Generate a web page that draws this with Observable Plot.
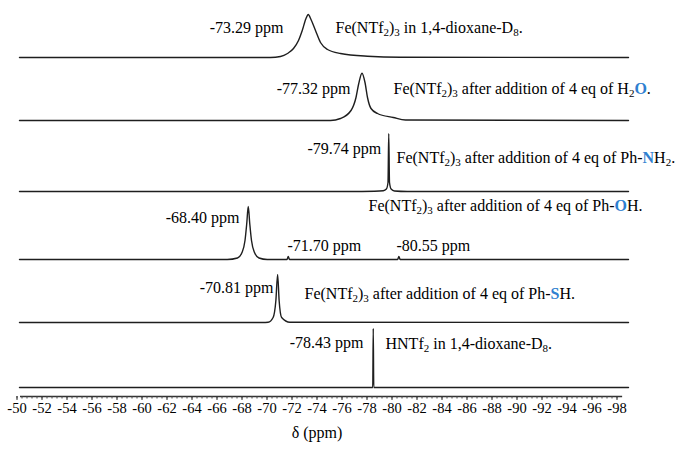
<!DOCTYPE html>
<html><head><meta charset="utf-8">
<script src="https://cdn.jsdelivr.net/npm/d3@7"></script>
<script src="https://cdn.jsdelivr.net/npm/@observablehq/plot@0.6"></script>
<style>
html,body{margin:0;padding:0;background:#fff;}
</style>
</head><body><div id="chart"></div>
<script>
// ---- data (ppm, intensity above each trace's baseline, arbitrary units) ----
const baselines = [33.9, 27.6, 20.5, 13.7, 7.4, 0.9];

const specFe = [[-50.2,0],[-70.28,0],[-71.08,0.1],[-71.64,0.4],[-72.12,0.9],[-72.52,1.7],[-72.82,2.7],[-73.12,3.9],[-73.3,4.3],[-73.52,3.8],[-73.88,2.7],[-74.28,1.5],[-74.84,0.8],[-75.88,0.4],[-78.04,0.13],[-80.68,0.03],[-98.92,0]];
const specH2O = [[-50.2,0],[-75.08,0],[-75.88,0.2],[-76.72,1.0],[-77.12,2.3],[-77.34,3.7],[-77.6,4.73],[-77.84,3.8],[-78.04,2.3],[-78.32,1.2],[-78.84,0.7],[-80.1,0.3],[-81.08,0.05],[-98.92,0]];
const specNH2 = [[-50.2,0],[-76.6,0],[-78.6,0.03],[-79.3,0.08],[-79.55,0.25],[-79.68,0.9],[-79.74,5.8],[-79.8,0.9],[-79.93,0.25],[-80.2,0.05],[-81.22,0],[-98.92,0]];
const specOH = [[-50.2,0],[-66.82,0],[-67.64,0.15],[-68.0,0.7],[-68.24,1.9],[-68.38,3.6],[-68.5,5.3],[-68.62,3.6],[-68.76,1.9],[-69.0,0.7],[-69.36,0.15],[-70.02,0],[-71.6,0],[-71.7,0.3],[-71.8,0],[-80.45,0],[-80.55,0.3],[-80.65,0],[-98.92,0]];
const specSH = [[-50.2,0],[-69.64,0],[-70.09,0.03],[-70.49,0.5],[-70.71,2.2],[-70.85,4.8],[-70.97,2.2],[-71.17,0.5],[-71.83,0.03],[-98.92,0]];
const specHNTf2 = [[-50.2,0],[-78.46,0],[-78.5,5.9],[-78.54,0],[-98.92,0]];

const spectra = [specFe, specH2O, specNH2, specOH, specSH, specHNTf2];

const majorTicks = [-50,-52,-54,-56,-58,-60,-62,-64,-66,-68,-70,-72,-74,-76,-78,-80,-82,-84,-86,-88,-90,-92,-94,-96,-98];

// annotations: text, anchor ppm, level, alignment
const peakLabelText = ["-73.29 ppm","-77.32 ppm","-79.74 ppm","-68.40 ppm","-71.70 ppm","-80.55 ppm","-70.81 ppm","-78.43 ppm"];
const peakLabelPpm  = [-71.32, -76.68, -79.14, -67.8, -71.64, -80.36, -70.52, -77.72];
const peakLabelLvl  = [36.9, 30.8, 24.8, 17.9, 15.1, 15.1, 10.9, 5.4];
const peakLabelEnd  = [true, true, true, true, false, false, true, true];

const descText = [
  "Fe(NTf_2)_3 in 1,4-dioxane-D_8.",
  "Fe(NTf_2)_3 after addition of 4 eq of H_2{O}.",
  "Fe(NTf_2)_3 after addition of 4 eq of Ph-{N}H_2.",
  "Fe(NTf_2)_3 after addition of 4 eq of Ph-{O}H.",
  "Fe(NTf_2)_3 after addition of 4 eq of Ph-{S}H.",
  "HNTf_2 in 1,4-dioxane-D_8."
];
const descPpm = [-75.48, -80.12, -80.36, -78.12, -73.0, -79.48];
const descLvl = [36.9, 30.8, 23.9, 19.1, 10.3, 5.3];

// ---- build tables ----
const rows = spectra.flatMap((s, i) => s.map(([ppm, v]) => ({series: i, ppm, y: v + baselines[i]})));
const peakLabels = peakLabelText.map((t, i) => ({text: t, ppm: peakLabelPpm[i], y: peakLabelLvl[i], end: peakLabelEnd[i]}));
const descs = descText.map((t, i) => ({text: t, ppm: descPpm[i], y: descLvl[i]}));
const minorTicks = d3.range(-50, -98.01, -0.4);

const FONT = "Liberation Serif";

const chart = Plot.plot({
  width: 680,
  height: 450,
  marginLeft: 16.5,
  marginRight: 63.5,
  marginTop: 0,
  marginBottom: 54,
  style: {fontFamily: FONT, fontSize: "14px", color: "#000", background: "#fff", overflow: "visible"},
  x: {domain: [-50, -98], label: null},
  y: {domain: [0, 39.6], axis: null},
  marks: [
    Plot.ruleY([0], {x1: -50.28, x2: -98.45, stroke: "#333", strokeWidth: 1.5}),
    Plot.axisX({ticks: minorTicks, tickSize: 2.5, tickFormat: () => "", label: null, stroke: "#444"}),
    Plot.axisX({ticks: majorTicks, tickSize: 4, tickPadding: 2, tickFormat: d => String(d), label: null, fontSize: 14.5, fontFamily: FONT, stroke: "#333", fill: "#000"}),
    Plot.line(rows, {x: "ppm", y: "y", z: "series", curve: "monotone-x", stroke: "#1e1e1e", strokeWidth: 1.4}),
    Plot.text(peakLabels.filter(d => d.end), {x: "ppm", y: "y", text: "text", textAnchor: "end", fontSize: 16, fontFamily: FONT, fill: "#000"}),
    Plot.text(peakLabels.filter(d => !d.end), {x: "ppm", y: "y", text: "text", textAnchor: "start", fontSize: 16, fontFamily: FONT, fill: "#000"}),
    Plot.text(descs, {x: "ppm", y: "y", text: "text", textAnchor: "start", fontSize: 16, fontFamily: FONT, fill: "#000"}),
    Plot.text(["δ (ppm)"], {frameAnchor: "bottom", dy: 41, fontSize: 16, fontFamily: FONT, fill: "#000"})
  ]
});

// rich text: _x subscript, {X} blue bold
function rich(el) {
  const s = el.textContent;
  while (el.firstChild) el.removeChild(el.firstChild);
  const re = /_(.)|\{([^}]*)\}|([^_{]+)/g;
  let m, pendingUp = false;
  const ns = "http://www.w3.org/2000/svg";
  while ((m = re.exec(s)) !== null) {
    const t = document.createElementNS(ns, "tspan");
    t.setAttribute("font-family", FONT);
    if (m[1] !== undefined) {
      t.textContent = m[1];
      t.setAttribute("font-size", "11");
      t.setAttribute("dy", pendingUp ? "0" : "3.5");
      pendingUp = true;
    } else {
      if (pendingUp) { t.setAttribute("dy", "-3.5"); pendingUp = false; }
      if (m[2] !== undefined) {
        t.textContent = m[2];
        t.setAttribute("fill", "#2f80d0");
        t.setAttribute("font-weight", "bold");
      } else {
        t.textContent = m[3];
      }
    }
    el.appendChild(t);
  }
}
const svgSel = d3.select(chart);
svgSel.attr("font-family", FONT);
svgSel.selectAll("g").attr("font-family", FONT);
svgSel.selectAll("text").attr("font-family", FONT).each(function () {
  if (/[_{]/.test(this.textContent)) rich(this);
});

document.getElementById("chart").appendChild(chart);
</script>
</body></html>
